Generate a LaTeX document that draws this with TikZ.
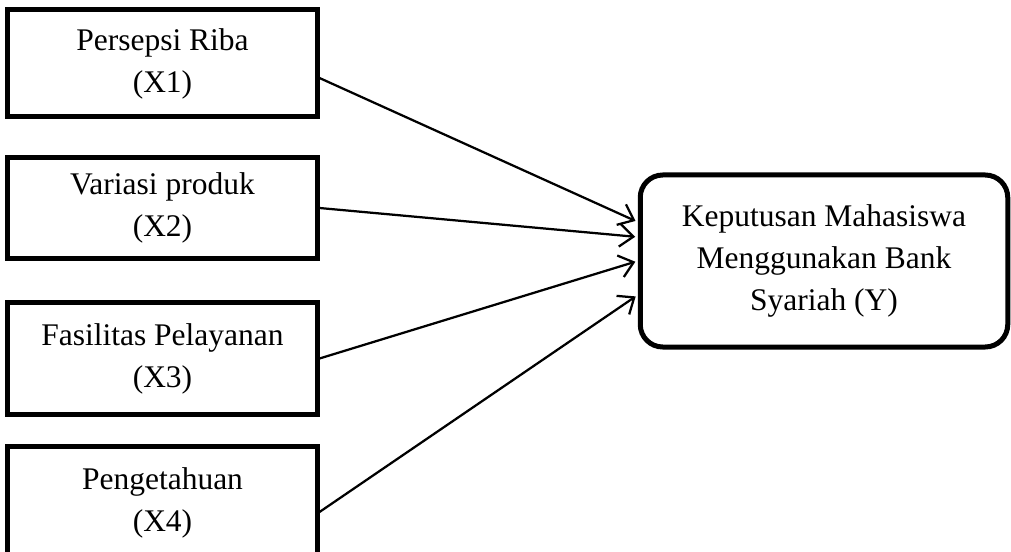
\documentclass[tikz,border=0pt]{standalone}
\usepackage{fontspec}
\setmainfont{Liberation Serif}
\usepackage{tikz}
\usetikzlibrary{arrows.meta,shapes}

\begin{document}
\begin{tikzpicture}[x=0.4pt,y=-0.4pt,
  varbox/.style={rectangle,draw,line width=2pt,minimum width=123.6pt,align=center,
    font=\fontsize{12.6}{16.8}\selectfont},
  ybox/.style={rectangle,draw,line width=2pt,rounded corners=9pt,minimum width=147pt,
    minimum height=68.8pt,align=center,font=\fontsize{12.6}{16.8}\selectfont},
  arr/.style={-{Straight Barb[length=5.5pt,width=9pt]},line width=0.9pt,shorten >=1pt}]
  \useasboundingbox (0,0) rectangle (1011,552);
  \node[varbox,minimum height=42.8pt] (x1) at (162.5,63.5) {Persepsi Riba\\(X1)};
  \node[varbox,minimum height=40pt] (x2) at (162.5,208) {Variasi produk\\(X2)};
  \node[varbox,minimum height=45pt] (x3) at (162.5,358.5) {Fasilitas Pelayanan\\(X3)};
  \node[varbox,minimum height=45pt] (x4) at (162.5,503) {Pengetahuan\\(X4)};
  \node[ybox] (y) at (824,261) {Keputusan Mahasiswa\\Menggunakan Bank\\Syariah (Y)};
  \draw[arr] ([yshift=-5.8pt]x1.east) -- ([yshift=15.6pt]y.west);
  \draw[arr] (x2.east) -- ([yshift=9.6pt]y.west);
  \draw[arr] (x3.east) -- (y.west);
  \draw[arr] ([yshift=-3.6pt]x4.east) -- ([yshift=-13.6pt]y.west);
\end{tikzpicture}
\end{document}
